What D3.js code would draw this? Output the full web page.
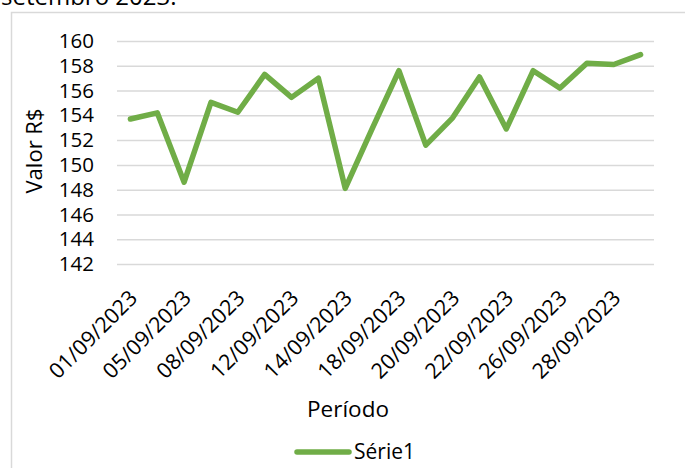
<!DOCTYPE html>
<html><head><meta charset="utf-8">
<script src="https://cdn.jsdelivr.net/npm/d3@7/dist/d3.min.js"></script>
<style>html,body{margin:0;padding:0;background:#fff;overflow:hidden}svg{display:block}</style>
</head><body>
<svg id="c" width="685" height="468"></svg>
<script>
const categories = ["01/09/2023","04/09/2023","05/09/2023","06/09/2023","08/09/2023","11/09/2023","12/09/2023","13/09/2023","14/09/2023","15/09/2023","18/09/2023","19/09/2023","20/09/2023","21/09/2023","22/09/2023","25/09/2023","26/09/2023","27/09/2023","28/09/2023","29/09/2023"];
const values = [153.7,154.2,148.6,155.05,154.25,157.3,155.45,157.0,148.1,152.9,157.6,151.6,153.8,157.1,152.9,157.6,156.2,158.2,158.1,158.9];
const yTicks = [142,144,146,148,150,152,154,156,158,160];
const xTickLabels = categories.filter((d,i)=>i%2===0);
const seriesName = "Série1";
const yTitle = "Valor R$";
const xTitle = "Período";
const topText = "setembro 2023.";

const FONT = "'Open Sans', sans-serif";
const GREEN = "#70AD47";
const GRID = "#d9d9d9";
const svg = d3.select("#c");

// cut-off text above chart
svg.append("text").attr("x",1).attr("y",5).attr("font-family",FONT).attr("font-size",24).attr("fill","#000").text(topText);

// chart border
svg.append("rect").attr("x",11.5).attr("y",12.5).attr("width",720).attr("height",520)
  .attr("fill","#fff").attr("stroke",GRID).attr("stroke-width",1.5);

const L = 117, R = 654, T = 41, B = 264;
const x = d3.scaleBand().domain(categories).range([L,R]);
const y = d3.scaleLinear().domain([142,160]).range([B,T]);

// gridlines
const grid = svg.append("g").attr("transform",`translate(${L},0)`)
  .call(d3.axisLeft(y).tickValues(yTicks).tickSize(-(R-L)).tickFormat(""));
grid.select(".domain").remove();
grid.selectAll(".tick line").attr("stroke",GRID).attr("stroke-width",1.5);

// y axis labels
const ya = svg.append("g").attr("transform",`translate(${L},0)`)
  .call(d3.axisLeft(y).tickValues(yTicks).tickSize(0).tickPadding(23));
ya.select(".domain").remove();
ya.selectAll("text").attr("font-family",FONT).attr("font-size",20.5).attr("fill","#000");

// x axis labels
const xa = svg.append("g").attr("transform",`translate(0,${B})`)
  .call(d3.axisBottom(x).tickValues(xTickLabels).tickSize(0));
xa.select(".domain").remove();
xa.selectAll("text").attr("font-family",FONT).attr("font-size",21.5).attr("fill","#000")
  .attr("x",0).attr("y",0).attr("dy","0.35em")
  .attr("transform","translate(3,30) rotate(-45)").style("text-anchor","end");

// line
const line = d3.line().x((d,i)=>x(categories[i])+x.bandwidth()/2).y(d=>y(d));
svg.append("path").datum(values).attr("d",line).attr("fill","none")
  .attr("stroke",GREEN).attr("stroke-width",5.5).attr("stroke-linejoin","round").attr("stroke-linecap","round");

// titles
svg.append("text").attr("x",348).attr("y",417).attr("text-anchor","middle")
  .attr("font-family",FONT).attr("font-size",22.5).attr("fill","#000").text(xTitle);
svg.append("text").attr("transform","translate(42,151) rotate(-90)").attr("text-anchor","middle")
  .attr("font-family",FONT).attr("font-size",22).attr("fill","#000").text(yTitle);

// legend
svg.append("line").attr("x1",297).attr("x2",349).attr("y1",452).attr("y2",452)
  .attr("stroke",GREEN).attr("stroke-width",5.5).attr("stroke-linecap","round");
svg.append("text").attr("x",354).attr("y",459).attr("font-family",FONT).attr("font-size",21)
  .attr("fill","#000").text(seriesName);
</script>
</body></html>
